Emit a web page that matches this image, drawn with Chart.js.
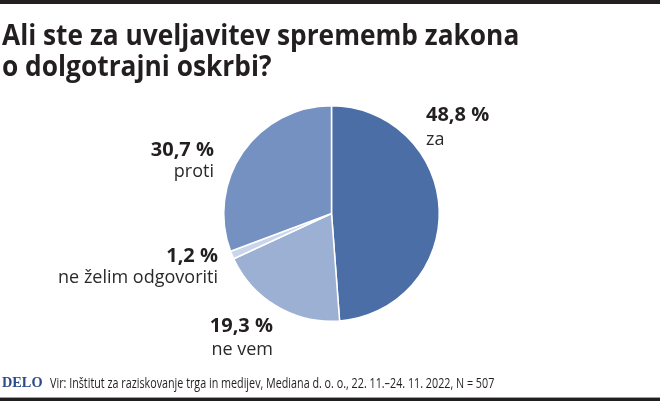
<!DOCTYPE html>
<html><head><meta charset="utf-8">
<script src="https://cdn.jsdelivr.net/npm/chart.js@4.4.0/dist/chart.umd.min.js"></script>
<style>
html,body{margin:0;padding:0;background:#fff;}
#wrap{position:relative;width:660px;height:401px;overflow:hidden;background:#fff;}
#topbar{position:absolute;left:0;top:0;width:660px;height:4px;background:#231f20;}
#botgray{position:absolute;left:0;top:397px;width:660px;height:1px;background:#a0a0a0;}
#botbar{position:absolute;left:0;top:398px;width:660px;height:3px;background:#231f20;}
#c{position:absolute;left:0;top:0;}
.t{position:absolute;white-space:nowrap;line-height:1;font-family:"Open Sans",sans-serif;color:#231f20;}
</style></head>
<body><div id="wrap"><canvas id="c" width="660" height="401"></canvas>
<div id="topbar"></div><div id="botgray"></div><div id="botbar"></div></div>
<script>
const title = ["Ali ste za uveljavitev sprememb zakona", "o dolgotrajni oskrbi?"];
const categories = ["za", "ne vem", "ne želim odgovoriti", "proti"];
const values = [48.8, 19.3, 1.2, 30.7];
const colors = ["#4b6ea6", "#9cb0d4", "#c9d5ea", "#7491c1"];
const logo = "DELO";
const source = "Vir: Inštitut za raziskovanje trga in medijev, Mediana d. o. o., 22. 11.–24. 11. 2022, N = 507";

// label layout: anchor x, align, baseline of value line, baseline of name line
const labelLayout = [
  {x: 426, align: "left",  b1: 122, b2: 145},
  {x: 273, align: "right", b1: 333, b2: 355},
  {x: 218, align: "right", b1: 263, b2: 283},
  {x: 214, align: "right", b1: 157, b2: 177}
];

const wrap = document.getElementById("wrap");
const ASC = 0.888; // baseline offset for Open Sans with line-height 1
function addText(txt, opts) {
  const d = document.createElement("div");
  d.className = "t";
  d.textContent = txt;
  d.style.fontSize = opts.size + "px";
  d.style.fontWeight = opts.weight || 400;
  if (opts.family) d.style.fontFamily = opts.family;
  if (opts.color) d.style.color = opts.color;
  const asc = opts.asc || ASC;
  d.style.top = (opts.base - asc * opts.size) + "px";
  if (opts.align === "right") { d.style.right = (660 - opts.x) + "px"; d.style.transformOrigin = "right top"; }
  else { d.style.left = opts.x + "px"; d.style.transformOrigin = "left top"; }
  wrap.appendChild(d);
  return d;
}

const fmt = v => v.toFixed(1).replace(".", ",") + " %";
categories.forEach((c, i) => {
  const L = labelLayout[i];
  addText(fmt(values[i]), {x: L.x, align: L.align, base: L.b1, size: 20, weight: 700});
  addText(c, {x: L.x, align: L.align, base: L.b2, size: 18, weight: 400, color: "#2a2a2a"});
});

const t1 = addText(title[0], {x: 2, base: 45, size: 29, weight: 700});
const t2 = addText(title[1], {x: 2, base: 76, size: 29, weight: 700});
const lg = addText(logo, {x: 2, base: 388, size: 15, weight: 700, family: "'Liberation Serif',serif", color: "#2c4b8a", asc: 0.891});
const src = addText(source, {x: 50, base: 388, size: 14, weight: 400});

function fit() {
  const s = 517 / t1.offsetWidth;
  t1.style.transform = "scaleX(" + s + ")";
  t2.style.transform = "scaleX(" + s + ")";
  lg.style.transform = "scaleX(" + (41 / lg.offsetWidth) + ")";
  src.style.transform = "scaleX(" + (444 / src.offsetWidth) + ")";
}
fit();
if (document.fonts && document.fonts.ready) document.fonts.ready.then(fit);

new Chart(document.getElementById("c"), {
  type: "pie",
  data: {
    labels: categories,
    datasets: [{data: values, backgroundColor: colors, borderColor: "#ffffff", borderWidth: 1.5}]
  },
  options: {
    responsive: false,
    animation: false,
    layout: {padding: {left: 223, right: 220, top: 105, bottom: 79}},
    plugins: {legend: {display: false}, tooltip: {enabled: false}, title: {display: false}}
  }
});
</script></body></html>
